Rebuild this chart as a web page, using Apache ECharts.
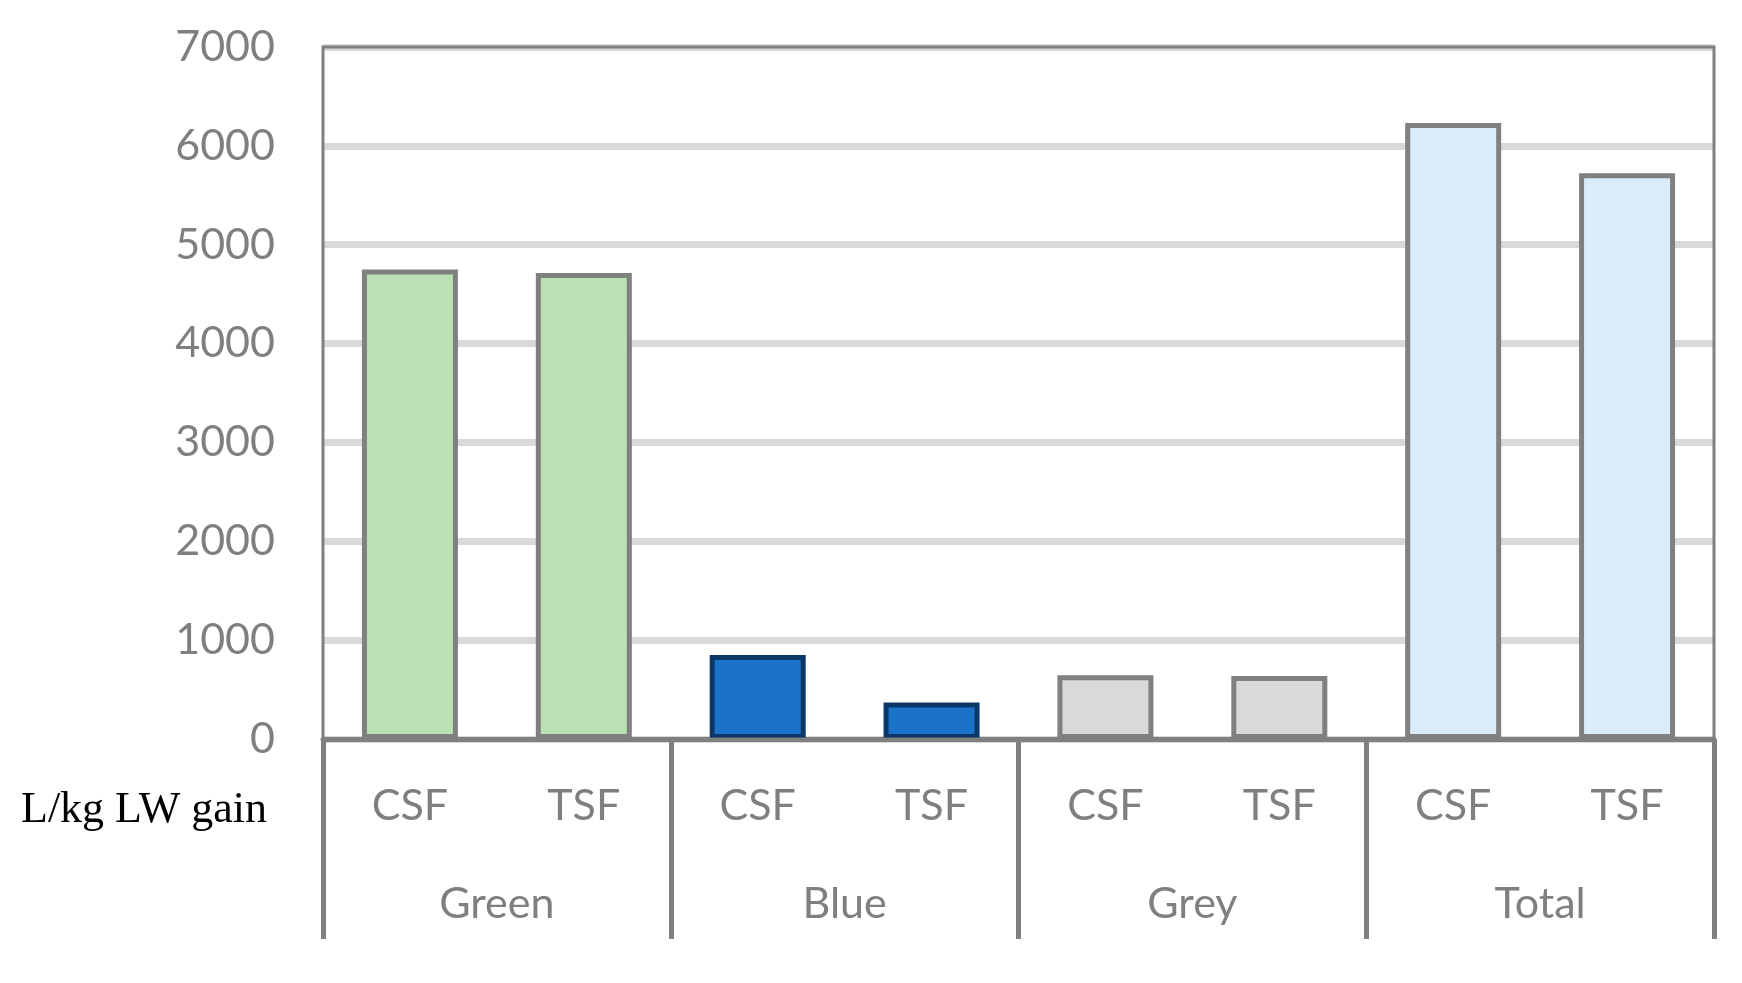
<!DOCTYPE html>
<html>
<head>
<meta charset="utf-8">
<script src="https://cdn.jsdelivr.net/npm/echarts@6/dist/echarts.min.js"></script>
<style>
  html, body { margin: 0; padding: 0; background: #ffffff; }
  #chart { width: 1742px; height: 983px; }
</style>
</head>
<body>
<div id="chart"></div>
<script>
// ---- data ----
const groups = ['Green', 'Blue', 'Grey', 'Total'];
const systems = ['CSF', 'TSF'];
const categories = ['CSF', 'TSF', 'CSF', 'TSF', 'CSF', 'TSF', 'CSF', 'TSF'];
const barGroup = ['Green', 'Green', 'Blue', 'Blue', 'Grey', 'Grey', 'Total', 'Total'];
const values = [4750, 4715, 850, 370, 645, 637, 6232, 5722];
const yTicks = [0, 1000, 2000, 3000, 4000, 5000, 6000, 7000];
const unitLabel = 'L/kg LW gain';

// ---- styles ----
const fills = { Green: '#bbe0b4', Blue: '#1a73c8', Grey: '#d9d9d9', Total: '#dbebf7' };
const borders = { Green: '#808080', Blue: '#0b3767', Grey: '#808080', Total: '#808080' };
const axisGrey = '#808080';
const textGrey = '#7f7f7f';
const sansFont = 'Lato, "Open Sans", sans-serif';

const chart = echarts.init(document.getElementById('chart'), null, { renderer: 'canvas' });

const barData = values.map((v, i) => ({
  value: v,
  itemStyle: {
    color: fills[barGroup[i]],
    borderColor: borders[barGroup[i]],
    borderWidth: 5
  }
}));

chart.setOption({
  animation: false,
  backgroundColor: '#ffffff',
  grid: {
    left: 323, right: 28, top: 47, bottom: 244, z: 5,
    show: true, borderColor: axisGrey, borderWidth: 3, backgroundColor: 'transparent'
  },
  xAxis: [
    {
      type: 'category',
      data: categories,
      position: 'bottom',
      axisLine: { show: true, lineStyle: { color: axisGrey, width: 5 } },
      axisTick: { show: false },
      axisLabel: {
        interval: 0, color: textGrey, fontFamily: sansFont, fontSize: 43,
        verticalAlign: 'middle', margin: 67
      },
      splitLine: { show: false }
    },
    {
      type: 'category',
      data: groups,
      position: 'bottom',
      axisLine: { show: false },
      axisTick: { show: true, interval: 0, length: 200, lineStyle: { color: axisGrey, width: 5 } },
      axisLabel: {
        interval: 0, color: textGrey, fontFamily: sansFont, fontSize: 43,
        verticalAlign: 'middle', margin: 165
      },
      splitLine: { show: false }
    }
  ],
  yAxis: {
    type: 'value',
    min: yTicks[0],
    max: yTicks[yTicks.length - 1],
    interval: 1000,
    axisLine: { show: false },
    axisTick: { show: false },
    axisLabel: {
      color: textGrey, fontFamily: sansFont, fontSize: 43, margin: 48,
      formatter: (v) => String(v)
    },
    splitLine: { show: true, lineStyle: { color: '#d9d9d9', width: 7 } }
  },
  graphic: [
    {
      type: 'text',
      right: 1742 - 267,
      top: 813 - 25,
      style: {
        text: unitLabel,
        font: '44px "Liberation Serif", "Times New Roman", serif',
        fill: '#000000',
        textAlign: 'right'
      }
    }
  ],
  series: [
    {
      type: 'bar',
      xAxisIndex: 0,
      yAxisIndex: 0,
      data: barData,
      barWidth: 96,
      z: 3
    }
  ]
});
</script>
</body>
</html>
